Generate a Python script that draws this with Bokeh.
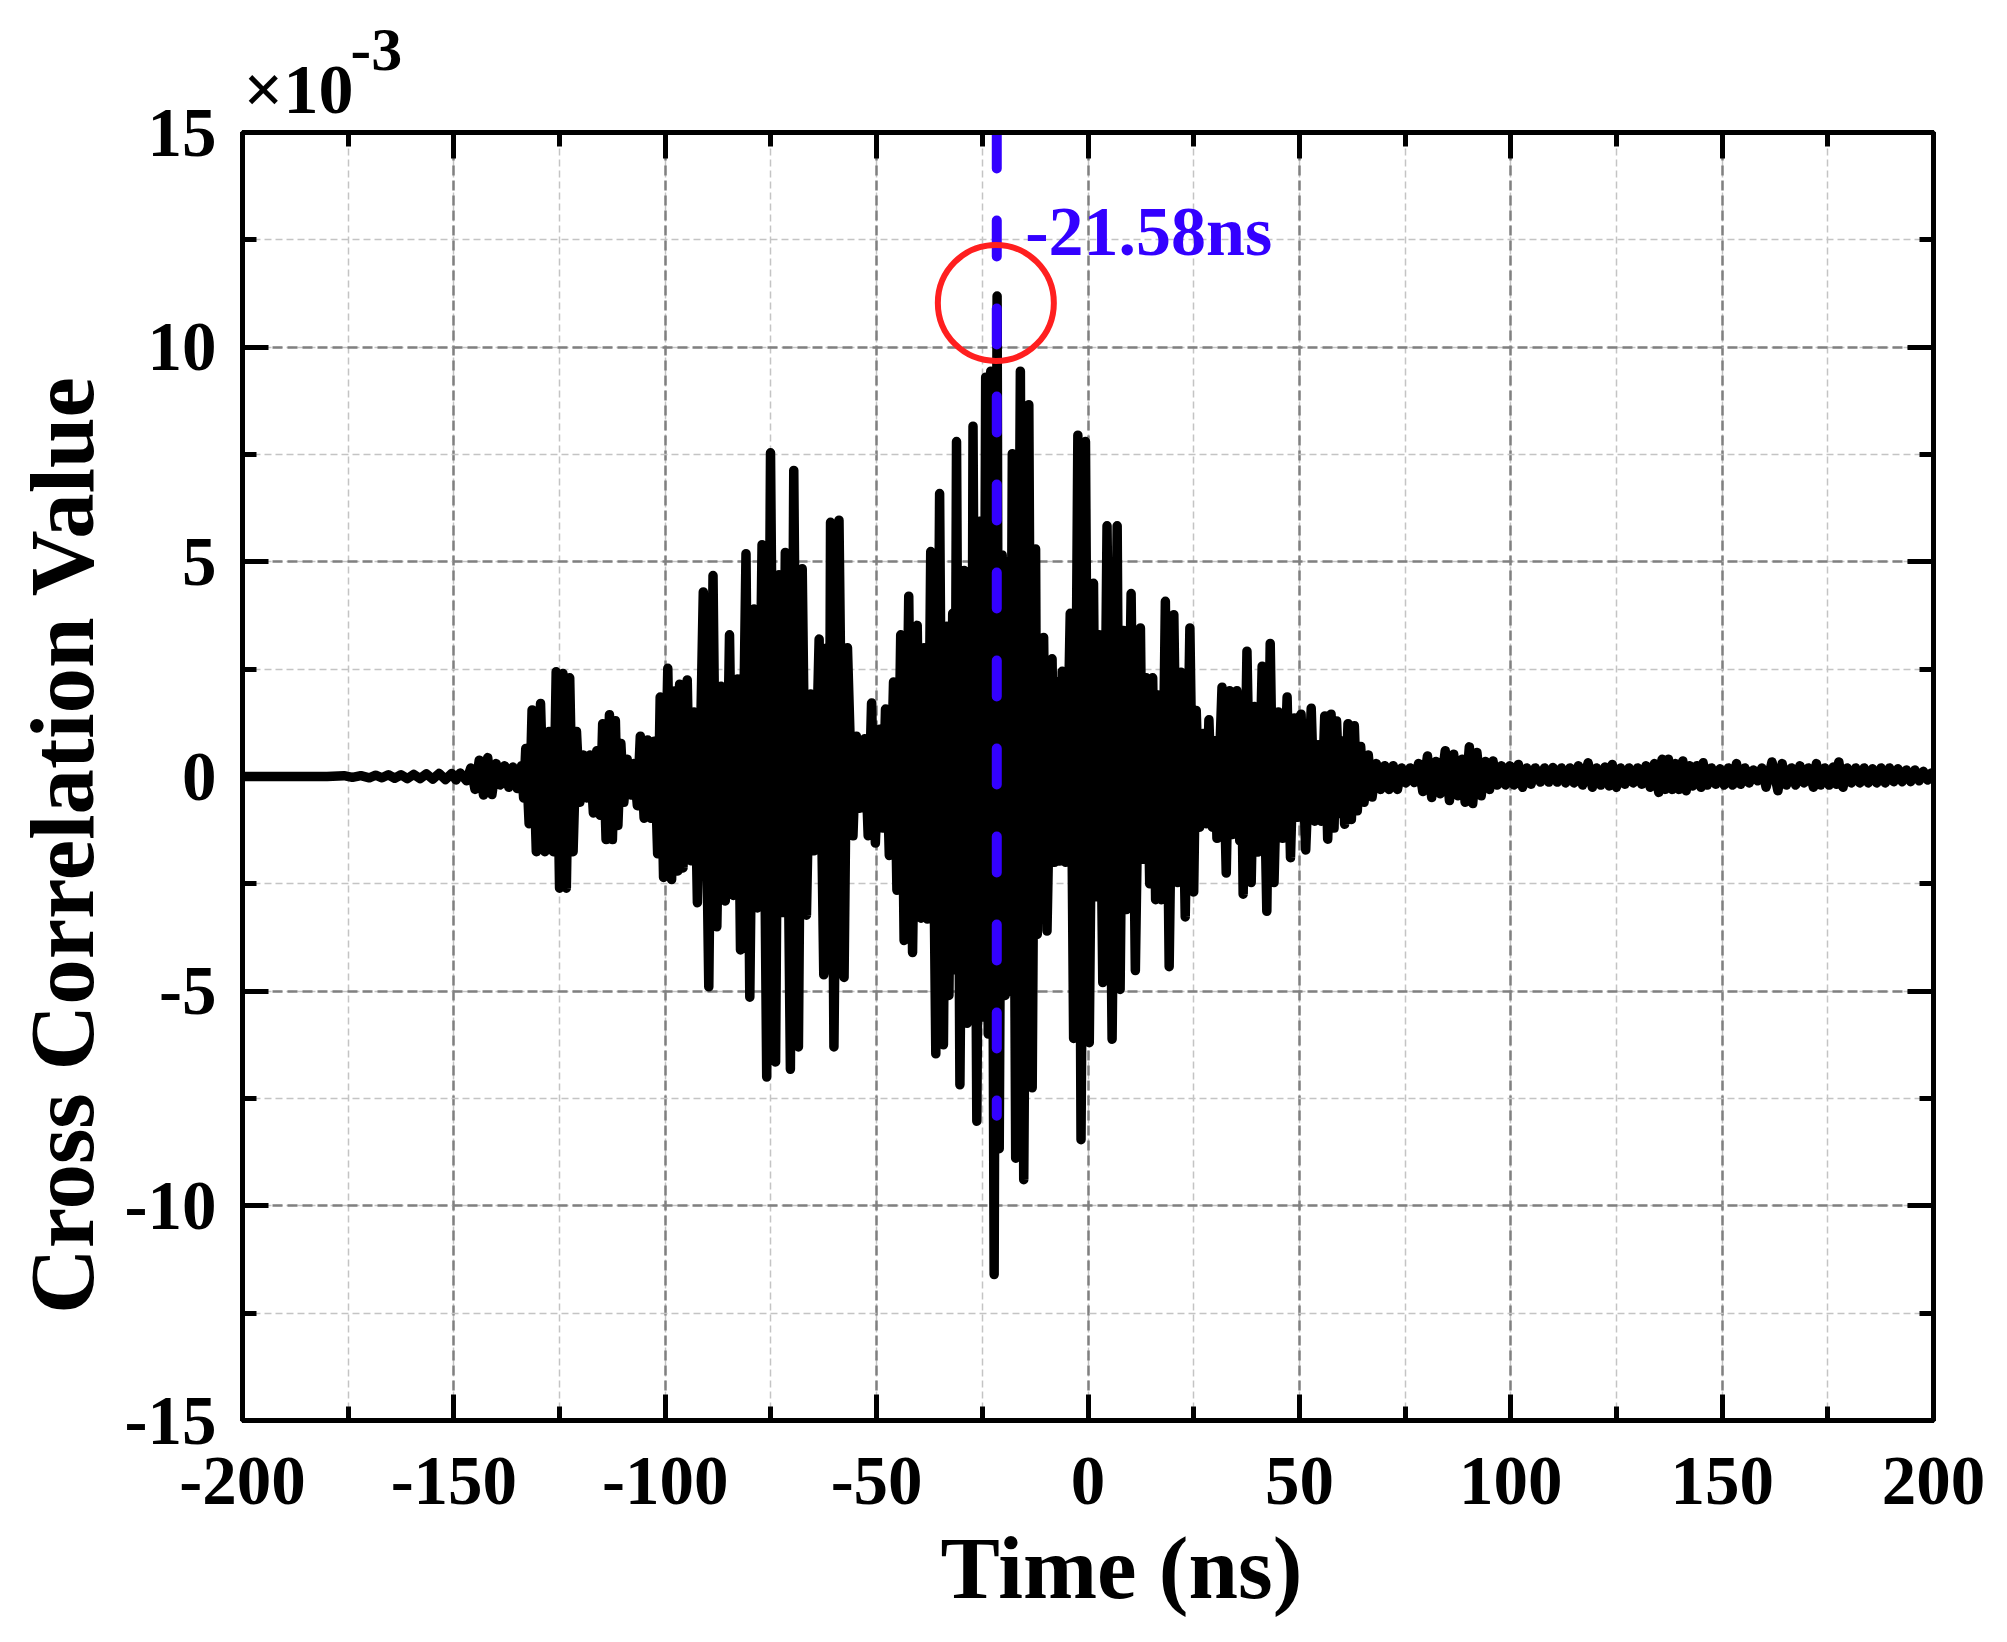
import math
from bokeh.plotting import figure
from bokeh.models import Range1d, LinearAxis, SingleIntervalTicker, Label, Title
from bokeh.embed import file_html
from bokeh.resources import INLINE

# ---------------- data (time in ns, value in units of 1e-3) ----------------
t_quiet = [-200, -190, -180, -176, -174, -172, -170, -168.5, -167, -165.5,
           -164, -162.5, -161, -159.5, -158, -156.5, -155, -153.5, -152, -150.5,
           -149.5, -148.5]
v_quiet = [0.0, 0.0, 0.0, 0.02, -0.02, 0.02, -0.03, 0.03, -0.03, 0.04,
           -0.04, 0.04, -0.05, 0.05, -0.05, 0.06, -0.06, 0.07, -0.07, 0.07,
           -0.08, 0.08]

t_b1 = [-147, -146, -145, -144, -143, -142, -141, -140, -139, -138,
        -137, -136, -135, -134, -133.5, -133, -132.2, -131.5, -130.5, -129.5,
        -128.5, -127.5, -126.5, -125.8, -125.0, -124.2, -123.4, -122.6, -121.8, -121.0,
        -120.2, -119.4, -118.6, -117.8, -117.0, -116.2, -115.4, -114.8, -114.0, -113.2,
        -112.5, -111.8, -111.2, -110.5, -109.8, -109.0, -108.2, -107.4, -106.6, -105.9,
        -105.0, -104.2, -103.4, -102.6, -101.8, -101.2]
v_b1 = [-0.1, 0.2, -0.3, 0.38, -0.43, 0.44, -0.42, 0.3, -0.2, 0.25,
        -0.25, 0.22, -0.28, 0.25, -0.5, 0.65, -1.1, 1.55, -1.75, 1.7,
        -1.75, 1.05, -1.75, 2.44, -2.6, 2.4, -2.6, 2.3, -1.75, 1.05,
        -0.6, 0.5, -0.5, 0.5, -0.85, 0.6, -0.9, 1.23, -1.47, 1.44,
        -1.47, 1.3, -1.14, 0.77, -0.6, 0.4, -0.43, 0.3, -0.68, 0.94,
        -0.97, 0.85, -0.97, 0.82, -1.8, 1.85]

t_b2 = [-100.4, -99.4, -98.5, -97.6, -97.0, -96.6, -95.8, -94.8, -94.0, -93.2,
        -92.4, -91.0, -89.7, -88.7, -87.8, -86.8, -85.8, -84.8, -83.9, -82.9,
        -82.2, -80.9, -80.0, -79.0, -78.2, -77.1, -76.0, -75.1, -73.9, -73.1,
        -72.3, -71.6, -70.4, -69.6, -68.5, -67.6, -66.6, -65.6, -64.8, -63.6,
        -62.5, -61.7, -61.3, -60.9, -60.1, -58.9, -57.7, -56.9, -55.6, -54.8,
        -54.0, -52.8, -52.0]
v_b2 = [-2.35, 2.52, -2.4, 2.0, -2.2, 2.15, -2.13, 2.25, -1.96, 1.5,
        -2.94, 4.3, -4.9, 4.68, -3.5, 2.1, -2.9, 3.3, -2.77, 2.27,
        -4.04, 5.19, -5.14, 3.9, -3.06, 5.4, -7.0, 7.54, -6.65, 4.7,
        -3.17, 5.22, -6.82, 7.13, -6.3, 4.84, -3.23, 1.92, -1.73, 3.2,
        -4.62, 3.0, -4.5, 5.92, -6.3, 5.97, -4.68, 3.0, -1.38, 0.94,
        -0.74, 0.88, -1.38]

t_b3 = [-51.2, -50.3, -49.3, -48.6, -47.9, -47.0, -46.0, -45.2, -44.3, -43.5,
        -42.4, -41.5, -40.4, -39.5, -38.8, -38.0, -37.2, -36.0, -35.1, -34.2,
        -33.4, -32.9, -32.0, -31.6, -31.1, -30.3, -29.3, -28.6, -28.0, -27.6,
        -27.2, -26.3, -25.4, -24.8, -24.2, -23.6, -23.0, -22.2, -21.5, -21.0,
        -20.3, -19.6, -18.9, -18.5, -17.9, -17.1, -16.0, -15.2, -14.0, -13.2,
        -12.4, -12.0, -11.3, -10.9, -10.5, -9.7, -8.5, -7.9, -7.3, -6.7,
        -6.1, -5.3, -4.2, -3.4, -2.4, -1.65, -0.6]
v_b3 = [1.71, -1.55, 1.1, -1.2, 1.57, -1.84, 2.2, -2.65, 3.3, -3.82,
        4.2, -4.1, 3.52, -3.3, 3.0, -3.32, 5.24, -6.46, 6.59, -6.25,
        3.5, -5.1, 3.8, -4.5, 7.8, -7.18, 4.8, -5.75, 3.8, -5.0,
        8.16, -8.03, 5.95, -5.6, 9.3, -6.0, 9.44, -11.6, 11.19, -8.67,
        5.16, -5.1, 5.0, -5.0, 7.52, -8.89, 9.44, -9.39, 8.66, -7.25,
        5.3, -3.68, 2.8, -3.3, 3.24, -3.6, 2.74, -2.0, 2.2, -1.97,
        2.45, -2.0, 3.8, -6.1, 7.95, -8.46, 7.8]

t_b4 = [0.3, 1.3, 1.9, 2.6, 3.5, 4.5, 5.7, 6.9, 7.6, 8.4,
        9.1, 10.2, 11.2, 12.4, 13.0, 13.8, 14.6, 15.3, 16.0, 16.6,
        17.4, 18.3, 19.2, 20.3, 21.2, 22.0, 23.0, 24.1, 25.0, 25.6,
        26.4, 27.2, 28.0, 28.6, 29.4, 30.0, 30.5, 31.7, 32.7, 33.5,
        34.2, 35.2, 35.9, 36.2, 36.7, 37.6, 38.6, 39.4, 40.2, 41.2,
        42.3, 43.1, 44.0, 45.0, 46.0, 47.1, 47.9, 48.8, 49.6, 50.4,
        51.5, 52.8, 53.6, 54.4, 55.2, 56.0, 56.7, 57.5, 58.2, 58.8,
        59.6, 60.0, 60.7, 61.5]
v_b4 = [-6.2, 4.5, -2.8, 3.3, -4.8, 5.84, -6.12, 5.84, -4.96, 3.4,
        -3.1, 4.26, -4.52, 3.46, -1.93, 2.3, -2.5, 2.3, -2.87, 1.9,
        -2.87, 4.08, -4.43, 3.77, -2.47, 2.43, -3.27, 3.46, -2.69, 1.54,
        -1.18, 1.0, -1.1, 1.32, -1.18, 0.83, -1.44, 2.08, -2.25, 2.0,
        -1.35, 2.0, -1.5, 1.6, -2.74, 2.92, -2.47, 1.63, -1.76, 2.57,
        -3.14, 3.1, -2.47, 1.5, -1.44, 1.85, -1.89, 1.36, -0.95, 1.45,
        -1.71, 1.59, -1.04, 0.74, -1.04, 1.41, -1.46, 1.45, -1.2, 1.29,
        -0.86, 0.83, -1.11, 1.23]

t_tail = [62.3, 63.0, 63.7, 64.5, 65.3, 66.3, 67.2, 68.2, 69.2, 70.2,
          71.2, 72.2, 73.2, 74.2, 75.2, 76.2, 77.2, 78.2, 79.2, 80.3,
          81.3, 82.3, 83.3, 84.5, 85.5, 86.5, 87.5, 88.5, 89.2, 90.2,
          91.0, 92.0, 93.0, 94.0, 95.0, 95.8, 96.8, 97.8, 98.8, 99.8,
          100.8, 101.8, 102.8, 103.8, 104.8, 105.8, 107.0, 108.0, 109.0, 110.0,
          111.0, 112.0, 113.0, 114.0, 115.0, 116.0, 117.0, 118.3, 119.3, 120.3,
          121.3, 122.3, 123.3, 124.0, 125.0, 126.0, 127.0, 128.0, 129.0, 130.0,
          131.0, 132.0, 133.0, 134.0, 135.0, 135.8, 136.5, 137.3, 138.2, 139.0,
          139.8, 140.7, 141.5, 142.3, 143.0, 144.0, 145.0, 145.5, 146.5, 147.5,
          148.5, 149.5, 150.5, 151.5, 152.5, 153.4, 154.4, 155.4, 156.4, 157.4,
          158.4, 159.4, 160.4, 161.8, 163.2, 164.2, 165.2, 166.4, 167.4, 168.4,
          169.4, 170.4, 171.6, 172.3, 173.3, 174.3, 175.3, 176.3, 177.0, 177.6,
          178.6, 179.6, 180.6, 181.6, 182.6, 183.6, 184.6, 185.6, 186.6, 187.6,
          188.6, 189.6, 190.6, 191.6, 192.6, 193.6, 194.6, 195.6, 196.6, 197.6,
          198.6, 199.5, 200.0]
v_tail = [-1.0, 1.18, -0.8, 0.7, -0.6, 0.5, -0.48, 0.3, -0.3, 0.25,
          -0.3, 0.25, -0.3, 0.2, -0.15, 0.2, -0.14, 0.3, -0.35, 0.48,
          -0.49, 0.35, -0.4, 0.6, -0.56, 0.52, -0.45, 0.4, -0.6, 0.69,
          -0.63, 0.56, -0.45, 0.35, -0.3, 0.36, -0.2, 0.25, -0.2, 0.25,
          -0.2, 0.28, -0.25, 0.2, -0.18, 0.2, -0.13, 0.2, -0.13, 0.21,
          -0.13, 0.2, -0.15, 0.2, -0.15, 0.25, -0.2, 0.32, -0.25, 0.2,
          -0.2, 0.22, -0.22, 0.28, -0.25, 0.2, -0.18, 0.2, -0.15, 0.2,
          -0.18, 0.25, -0.25, 0.3, -0.37, 0.4, -0.3, 0.4, -0.3, 0.3,
          -0.3, 0.36, -0.33, 0.25, -0.22, 0.25, -0.25, 0.32, -0.2, 0.2,
          -0.18, 0.18, -0.2, 0.2, -0.2, 0.3, -0.18, 0.2, -0.15, 0.15,
          -0.1, 0.2, -0.25, 0.34, -0.33, 0.3, -0.2, 0.2, -0.2, 0.25,
          -0.15, 0.2, -0.25, 0.3, -0.2, 0.2, -0.2, 0.22, -0.18, 0.34,
          -0.25, 0.2, -0.15, 0.2, -0.15, 0.2, -0.15, 0.18, -0.15, 0.2,
          -0.15, 0.2, -0.12, 0.18, -0.12, 0.15, -0.12, 0.15, -0.1, 0.12,
          -0.08, 0.08, 0.03]

segments_t = [t_quiet, t_b1, t_b2, t_b3, t_b4, t_tail]
segments_v = [v_quiet, v_b1, v_b2, v_b3, v_b4, v_tail]
for a, b in zip(segments_t, segments_v):
    assert len(a) == len(b), (len(a), len(b))
time_ns = [x for seg in segments_t for x in seg]
corr_e3 = [y for seg in segments_v for y in seg]

# annotation values
peak_t = -21.58
peak_text = "-21.58ns"
guide_v = [15.0, -7.9]
circle_t = [-21.8]
circle_v = [11.03]

x_ticks = [-200, -150, -100, -50, 0, 50, 100, 150, 200]
y_ticks = [-15, -10, -5, 0, 5, 10, 15]
x_title = "Time (ns)"
y_title = "Cross Correlation Value"
scale_text = "×10"
scale_exp = "-3"

FONT = "Liberation Serif"
NB = "\u00a0"

# ---------------- figure ----------------
p = figure(frame_width=1691, frame_height=1288,
           min_border_left=242, min_border_right=73,
           min_border_top=132, min_border_bottom=221,
           x_range=Range1d(-200, 200), y_range=Range1d(-15, 15),
           output_backend="svg", toolbar_location=None)
p.title_location = None
p.background_fill_color = "white"
p.border_fill_color = "white"
p.outline_line_color = "black"
p.outline_line_width = 5

xt = SingleIntervalTicker(interval=50, num_minor_ticks=2)
yt = SingleIntervalTicker(interval=5, num_minor_ticks=2)
p.xaxis[0].ticker = xt
p.yaxis[0].ticker = yt
p.xgrid[0].ticker = xt
p.ygrid[0].ticker = yt


def style_axis(ax, show_labels):
    ax.axis_line_width = 5
    ax.axis_line_color = "black"
    ax.major_tick_line_width = 5
    ax.minor_tick_line_width = 5
    ax.major_tick_in = 26
    ax.major_tick_out = 0
    ax.minor_tick_in = 14
    ax.minor_tick_out = 0
    ax.major_tick_line_color = "black"
    ax.minor_tick_line_color = "black"
    if show_labels:
        ax.major_label_text_font = FONT
        ax.major_label_text_font_style = "bold"
        ax.major_label_text_font_size = "69px"
        ax.major_label_text_color = "black"
        ax.axis_label_text_font = FONT
        ax.axis_label_text_font_style = "bold"
        ax.axis_label_text_font_size = "89px"
        ax.axis_label_text_color = "black"
    else:
        ax.major_label_text_font_size = "0px"
        ax.major_label_standoff = 0


xa = p.xaxis[0]
ya = p.yaxis[0]
style_axis(xa, True)
style_axis(ya, True)
xa.major_label_standoff = 37
ya.major_label_standoff = 26
xa.major_label_overrides = {v: str(v) for v in x_ticks}
ya.major_label_overrides = {v: str(v) for v in y_ticks}
xa.axis_label = NB * 3 + x_title
xa.axis_label_standoff = 12
ya.axis_label = y_title + NB * 6
ya.axis_label_standoff = 9
ya.axis_label_text_font_size = "91px"

top_ax = LinearAxis(ticker=xt)
right_ax = LinearAxis(ticker=yt)
style_axis(top_ax, False)
style_axis(right_ax, False)
p.add_layout(top_ax, "above")
p.add_layout(right_ax, "right")

for g in (p.xgrid[0], p.ygrid[0]):
    g.grid_line_color = "#808080"
    g.grid_line_width = 2.5
    g.grid_line_dash = "10 5"
    g.minor_grid_line_color = "#C4C4C4"
    g.minor_grid_line_width = 1.5
    g.minor_grid_line_dash = "7 4"

# signal
p.line(time_ns, corr_e3, line_color="black", line_width=9.5,
       line_join="round", line_cap="round")

# peak marker line
p.line([peak_t, peak_t], guide_v, line_color="#3300FF", line_width=10,
       line_dash="36 52", line_cap="round")

# red circle
p.scatter(circle_t, circle_v, marker="circle", size=116, fill_color=None,
          line_color="#FF1F1F", line_width=6)

# peak text (inside the frame)
p.add_layout(Label(x=-14.85, y=12.69, text=peak_text, text_font=FONT,
                   text_font_style="bold", text_font_size="70px",
                   text_color="#3300FF", text_baseline="alphabetic"))

# scale factor above the frame
t1 = Title(text=scale_text, align="left", offset=1, standoff=9,
           text_font=FONT, text_font_style="bold", text_font_size="70px",
           text_color="black")
t2 = Title(text=scale_exp, align="left", offset=108, standoff=-50,
           text_font=FONT, text_font_style="bold", text_font_size="62px",
           text_color="black")
p.add_layout(t1, "above")
p.add_layout(t2, "above")

open("out.html", "w").write(file_html(p, INLINE))
